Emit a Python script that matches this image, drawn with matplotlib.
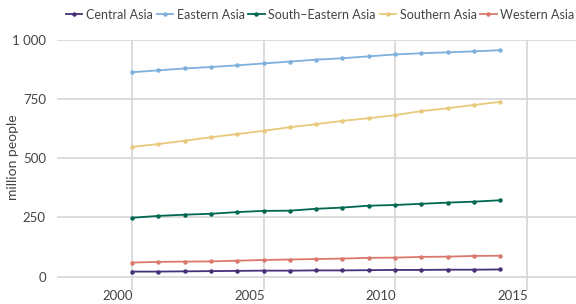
import numpy as np
import matplotlib
matplotlib.use("Agg")
import matplotlib.pyplot as plt
from matplotlib.ticker import FuncFormatter
from matplotlib.transforms import ScaledTranslation

years = list(range(2000, 2015))
central = [21, 21, 22, 23, 24, 25, 25, 26, 26, 27, 28, 28, 29, 29, 30]
eastern = [862, 870, 878, 884, 891, 899, 907, 915, 921, 929, 937, 942, 946, 950, 955]
south_eastern = [248, 256, 261, 265, 272, 277, 278, 286, 291, 299, 302, 307, 312, 316, 322]
southern = [547, 559, 573, 588, 601, 615, 630, 643, 657, 668, 681, 698, 710, 724, 737]
western = [59, 62, 63, 64, 67, 70, 72, 74, 76, 79, 80, 83, 84, 87, 88]

series = [
    ("Central Asia", central, "#45307a"),
    ("Eastern Asia", eastern, "#7eb0dd"),
    ("South\u2212Eastern Asia", south_eastern, "#00684f"),
    ("Southern Asia", southern, "#e8c97a"),
    ("Western Asia", western, "#d9786c"),
]

plt.rcParams["font.family"] = ["Lato", "DejaVu Sans"]
text_col = "#444444"
grid_col = "#d9d9d9"

fig = plt.figure(figsize=(5.76, 3.04), dpi=100)
ax = fig.add_axes([0.099, 0.045, 0.901, 0.825])

for name, vals, col in series:
    ax.plot(years, vals, color=col, lw=1.3, marker="o", ms=2.2, label=name)

ax.set_xlim(1997.15, 2016.88)
ax.set_ylim(-58, 1000)
ax.set_xticks([2000, 2005, 2010, 2015])
ax.set_yticks([0, 250, 500, 750, 1000])
ax.yaxis.set_major_formatter(FuncFormatter(lambda v, p: f"{int(v):,}".replace(",", " ")))

ax.grid(True, color=grid_col, lw=1.3)
ax.set_axisbelow(True)
for s in ax.spines.values():
    s.set_visible(False)
ax.tick_params(length=0, colors=text_col, labelsize=9.5)
ax.tick_params(axis="y", pad=8)
ax.tick_params(axis="x", pad=0)

# reference draws the year labels slightly left of the gridlines
shift = ScaledTranslation(-14 / 100, 0, fig.dpi_scale_trans)
for lbl in ax.get_xticklabels():
    lbl.set_transform(lbl.get_transform() + shift)

ax.set_ylabel("million people", color=text_col, fontsize=10)
ax.yaxis.set_label_coords(-0.074, 0.53)

leg = fig.legend(loc="upper center", bbox_to_anchor=(0.556, 1.008), ncol=5,
                 frameon=False, fontsize=9, handlelength=1.3, handletextpad=0.3,
                 columnspacing=0.3, labelcolor=text_col)

fig.savefig("out.png", dpi=100)
